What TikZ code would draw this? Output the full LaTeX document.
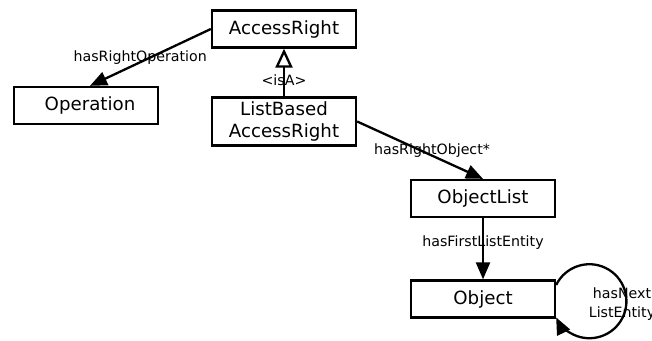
\documentclass[tikz,border=0pt]{standalone}
\usepackage{fontspec}
\setmainfont{DejaVu Sans}
\usetikzlibrary{arrows.meta}
\begin{document}
\begin{tikzpicture}[x=1pt,y=-1pt,
  cls/.style={draw,line width=2.3pt,minimum width=144pt,minimum height=37pt,inner sep=0pt,font=\fontsize{18.2}{22}\selectfont,align=center},
  rel/.style={line width=2.3pt,-{Triangle[length=17pt,width=14pt]}},
  isa/.style={line width=2.3pt,-{Triangle[open,length=19pt,width=17pt,line width=2.3pt]}},
  lbl/.style={font=\fontsize{14.2}{19}\selectfont,inner sep=0pt,align=center}]
\useasboundingbox (0,0) rectangle (652,340);
\clip (0,0) rectangle (652,340);
\node[cls] (ar) at (284,29) {AccessRight};
\node[cls] (op) at (86,105.5) {\hspace{8pt}Operation};
\node[cls,minimum height=48pt] (lb) at (284,121.5) {ListBased\\AccessRight};
\node[cls] (ol) at (483,198.5) {ObjectList};
\node[cls] (obj) at (483,299) {Object};
\draw[rel] (ar.west) -- node[lbl,pos=0.56,yshift=3pt,xshift=-3pt] {hasRightOperation} ([xshift=4pt]op.north);
\draw[isa] (lb.north) -- node[lbl,pos=0.33] {<isA>} (ar.south);
\draw[rel] (lb.east) -- node[lbl,pos=0.595,yshift=5pt] {hasRightObject*} (ol.north);
\draw[rel] (ol.south) -- node[lbl,pos=0.4] {hasFirstListEntity} (obj.north);
\draw[rel] ([yshift=14pt]obj.east) arc[start angle=206,end angle=514,radius=37];
\node[lbl] (nx) at (622,304) {hasNext\\ListEntity};
\end{tikzpicture}
\end{document}
